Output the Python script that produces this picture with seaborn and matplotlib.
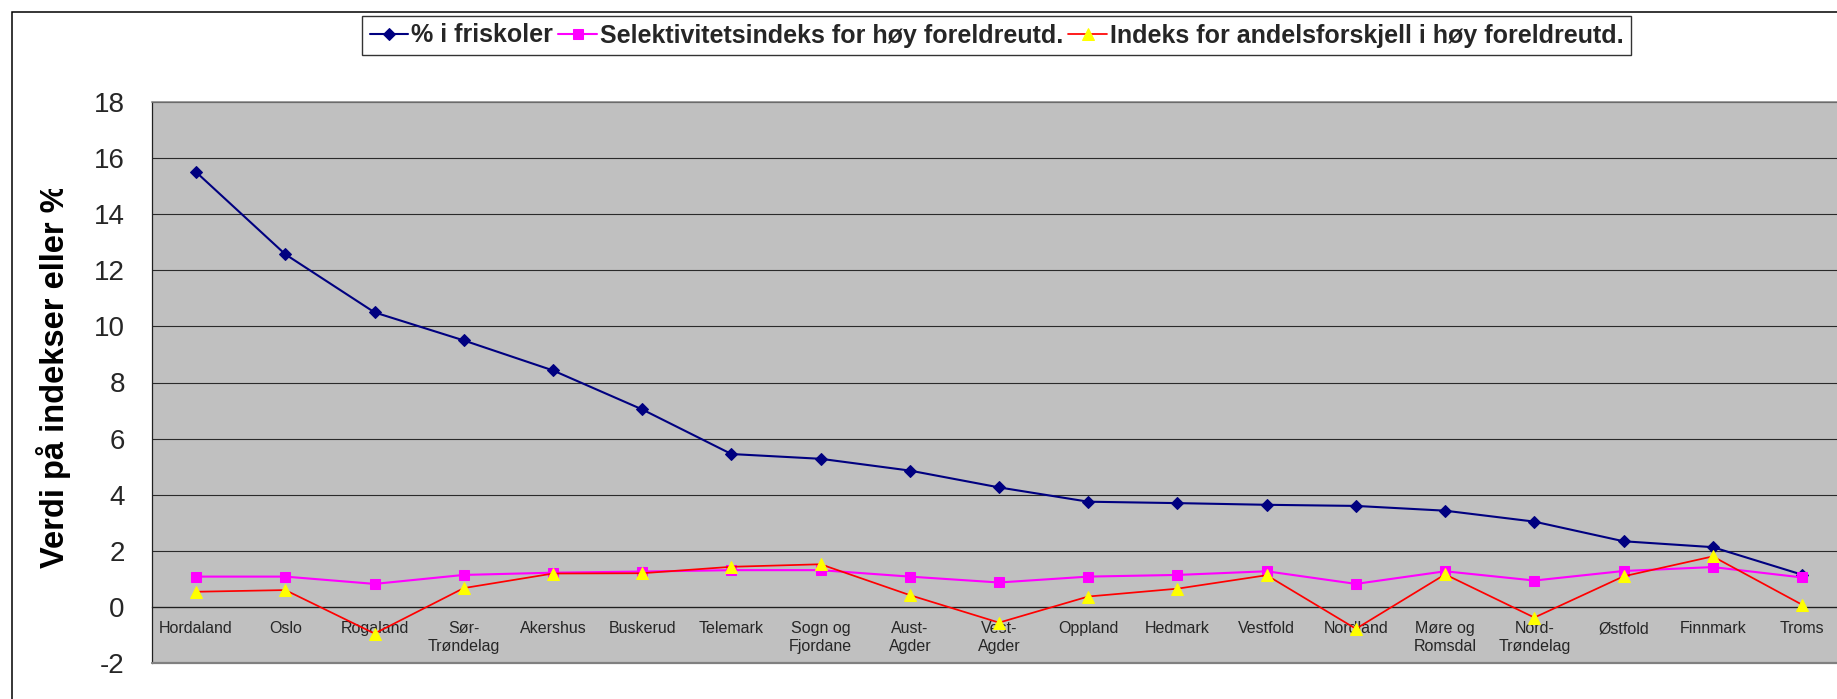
import numpy as np
import pandas as pd
import matplotlib
matplotlib.use("Agg")
import matplotlib.pyplot as plt
import seaborn as sns
from matplotlib import font_manager as fm
from matplotlib.patches import Rectangle
from matplotlib.transforms import Bbox, TransformedBbox

# ---------------- data ----------------
categories = ["Hordaland", "Oslo", "Rogaland", "Sør-Trøndelag", "Akershus", "Buskerud",
              "Telemark", "Sogn og Fjordane", "Aust-Agder", "Vest-Agder", "Oppland",
              "Hedmark", "Vestfold", "Nordland", "Møre og Romsdal", "Nord-Trøndelag",
              "Østfold", "Finnmark", "Troms"]
tick_labels = ["Hordaland", "Oslo", "Rogaland", "Sør-\nTrøndelag", "Akershus", "Buskerud",
               "Telemark", "Sogn og\nFjordane", "Aust-\nAgder", "Vest-\nAgder", "Oppland",
               "Hedmark", "Vestfold", "Nordland", "Møre og\nRomsdal", "Nord-\nTrøndelag",
               "Østfold", "Finnmark", "Troms"]
pct_friskoler = [15.5, 12.57, 10.5, 9.5, 8.43, 7.04, 5.45, 5.28, 4.86, 4.26, 3.75,
                 3.70, 3.64, 3.60, 3.43, 3.04, 2.34, 2.13, 1.15]
selektivitet = [1.08, 1.08, 0.82, 1.14, 1.22, 1.26, 1.31, 1.31, 1.08, 0.87, 1.08,
                1.14, 1.27, 0.82, 1.27, 0.94, 1.28, 1.42, 1.05]
andelsforskjell = [0.54, 0.60, -0.95, 0.67, 1.19, 1.20, 1.43, 1.52, 0.42, -0.56, 0.37,
                   0.65, 1.13, -0.78, 1.16, -0.38, 1.09, 1.80, 0.08]
series_names = ["% i friskoler", "Selektivitetsindeks for høy foreldreutd.",
                "Indeks for andelsforskjell i høy foreldreutd."]
y_ticks = [-2, 0, 2, 4, 6, 8, 10, 12, 14, 16, 18]
y_label = "Verdi på indekser eller %"

# ---------------- style ----------------
sns.set_style("white")
plt.rcParams["font.family"] = ["Liberation Sans", "DejaVu Sans"]
plt.rcParams["axes.unicode_minus"] = False


def has_font(name):
    try:
        fm.findfont(fm.FontProperties(family=name), fallback_to_default=False)
        return True
    except Exception:
        return False


if has_font("Liberation Sans Narrow"):
    legend_fp = fm.FontProperties(family="Liberation Sans Narrow", weight="bold", size=21.5)
else:
    legend_fp = fm.FontProperties(family="Liberation Sans", weight="bold", size=18)

W, H = 1837, 699
fig = plt.figure(figsize=(W / 100, H / 100), dpi=100)
fig.patch.set_facecolor("white")

# plot area (extends past the right edge like the cropped original)
left_px, right_px, top_px, bottom_px = 151.5, 1846.6, 102, 663
ax = fig.add_axes([left_px / W, 1 - bottom_px / H, (right_px - left_px) / W,
                   (bottom_px - top_px) / H])
ax.set_facecolor("#C0C0C0")

df = pd.DataFrame({
    "kat": categories * 3,
    "verdi": pct_friskoler + selektivitet + andelsforskjell,
    "serie": [series_names[0]] * len(categories) + [series_names[1]] * len(categories)
             + [series_names[2]] * len(categories),
})

styles = [
    dict(color="#000080", marker="D", markersize=6.0, markerfacecolor="#000080",
         markeredgecolor="#000080", lw=1.5),
    dict(color="#FF00FF", marker="s", markersize=6.8, markerfacecolor="#FF00FF",
         markeredgecolor="#FF00FF", lw=1.5),
    dict(color="#FF0000", marker="^", markersize=8.0, markerfacecolor="#FFFF00",
         markeredgecolor="#FFFF00", lw=1.25),
]
for name, st in zip(series_names, styles):
    sub = df[df["serie"] == name]
    sns.lineplot(data=sub, x="kat", y="verdi", ax=ax, sort=False, label=name,
                 color=st["color"], marker=st["marker"], markersize=st["markersize"],
                 markerfacecolor=st["markerfacecolor"], markeredgecolor=st["markeredgecolor"],
                 linewidth=st["lw"], zorder=5)

ax.set_xlim(-0.5, len(categories) - 0.5)
ax.set_ylim(y_ticks[0], y_ticks[-1])
ax.set_yticks(y_ticks)
ax.set_yticklabels([str(v) for v in y_ticks])
ax.set_xticks(range(len(categories)))
ax.set_xticklabels(tick_labels)
ax.set_xticks(np.arange(0.5, len(categories) - 1, 1.0), minor=True)

ax.grid(axis="y", color="#2a2a2a", lw=0.8, zorder=1)
ax.grid(axis="x", visible=False)
ax.set_axisbelow(True)

ax.spines["bottom"].set_position(("data", 0))
ax.spines["bottom"].set_color("#202020")
ax.spines["bottom"].set_linewidth(0.9)
ax.spines["left"].set_color("#202020")
ax.spines["left"].set_linewidth(0.9)
ax.spines["top"].set_color("#808080")
ax.spines["top"].set_linewidth(1.1)
ax.spines["right"].set_visible(False)
ax.axhline(y_ticks[0], color="#808080", lw=1.6, clip_on=False, zorder=6)

ax.tick_params(axis="y", which="major", direction="out", length=7.2, width=0.9,
               color="#202020", labelsize=20, pad=12)
ax.tick_params(axis="x", which="major", length=0, labelsize=11.5, pad=10.5)
ax.tick_params(axis="x", which="minor", direction="out", length=3.6, width=0.9,
               color="#202020")
ax.set_xlabel("")
ax.set_ylabel("")

# y axis title (clipped at the top as in the original)
lab = fig.text(53.5 / W, 1 - 568 / H, y_label, rotation=90, ha="center", va="bottom",
               fontsize=23.5, fontweight="bold", color="black")
lab.set_clip_box(TransformedBbox(Bbox([[0, 0], [1, 1 - 189 / H]]), fig.transFigure))
lab.set_clip_on(True)

# legend
if ax.get_legend():
    ax.get_legend().remove()
handles, labels = ax.get_legend_handles_labels()
leg = fig.legend(handles, labels, loc="upper left",
                 bbox_to_anchor=(362 / W, 1 - 16 / H), bbox_transform=fig.transFigure,
                 ncol=3, prop=legend_fp, frameon=True, fancybox=False, shadow=False,
                 borderaxespad=0, borderpad=0.3, handlelength=1.55, handletextpad=0.12,
                 columnspacing=0.2, numpoints=1)
leg.get_frame().set_edgecolor("black")
leg.get_frame().set_linewidth(1.0)

# outer chart frame (cropped at right and bottom)
fig.patches.append(Rectangle((12 / W, -0.05), 1.1, 1 - 12 / H + 0.05,
                             transform=fig.transFigure, fill=False, edgecolor="black",
                             lw=1.1, zorder=0))

fig.savefig("out.png", dpi=100, facecolor="white")
